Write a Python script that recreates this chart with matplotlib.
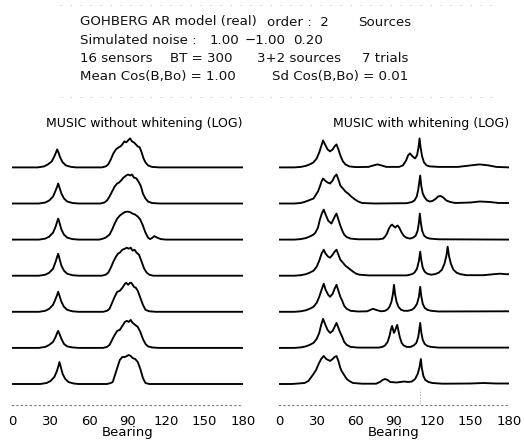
import numpy as np
import matplotlib
matplotlib.use("Agg")
import matplotlib.pyplot as plt
from matplotlib.lines import Line2D

# MUSIC spectra: (bearing in degrees, height above the trace baseline)
left_1 = [(0, 0), (20, 0), (25, 1), (28, 3), (31, 6), (33, 11), (34.3, 15), (35.2, 18), (36.2, 15), (37.5, 10),
          (39.5, 5), (42, 2), (46, 0.5), (50, 0), (70, 0), (73, 1), (75, 3), (77, 8), (79, 14), (81, 18), (83, 20),
          (84.5, 21), (86, 23), (87.5, 26), (89, 25), (90.5, 27), (92, 29), (93.5, 26), (95, 25), (96.5, 23),
          (98, 21), (99.5, 20), (101, 15), (102.5, 9), (104, 5), (106, 2), (109, 0.5), (115, 0), (180, 0)]
left_2 = [(0, 0), (21, 0), (26, 1), (29, 3), (32, 7), (34, 13), (35.2, 17), (36, 20), (37, 16), (38.5, 10),
          (40.5, 5), (43, 2), (47, 0.5), (52, 0), (69, 0), (72, 1), (74, 3), (76, 7), (78, 12), (80, 17), (82, 20),
          (83.5, 21), (85, 23), (87, 26), (89, 28), (90.5, 29), (92, 28), (93.5, 29), (95, 26), (97, 25), (99, 21),
          (100.5, 17), (102, 10), (104, 5), (106, 2), (109, 0.5), (115, 0), (180, 0)]
left_3 = [(0, 0), (21, 0), (26, 1), (29, 3), (32, 7), (34, 13), (35.2, 18), (36, 21), (37, 17), (38.5, 10),
          (40.5, 5), (43, 2), (47, 0.5), (52, 0), (68, 0), (71, 1), (73, 2), (76, 5), (78, 10), (80, 16), (82, 21),
          (84, 24), (86, 26), (88, 27.5), (90, 28), (92, 27.5), (94, 26), (96, 25), (98, 23), (100, 20), (102, 14),
          (104, 7), (106, 2), (107.5, 0.5), (109, 1.5), (111, 3.5), (113, 2), (116, 0.5), (120, 0), (180, 0)]
left_4 = [(0, 0), (21, 0), (26, 1), (29, 3), (32, 7), (34, 14), (35.2, 19), (36, 22), (37, 17), (38.5, 10),
          (40.5, 5), (43, 2), (47, 0.5), (52, 0), (70, 0), (73, 1), (75, 3), (77, 8), (79, 14), (81, 19), (82.5, 22),
          (84, 23), (86, 26), (88, 27), (89.5, 28), (91, 27), (92.5, 28), (94, 25), (95.5, 26), (97, 23), (99, 21),
          (101, 14), (103, 7), (105, 3), (107, 1), (110, 0), (180, 0)]
left_5 = [(0, 0), (21, 0), (26, 1), (29, 3), (32, 7), (34, 13), (35.2, 17), (36, 20), (37, 16), (38.5, 10),
          (40.5, 5), (43, 2), (47, 0.5), (52, 0), (71, 0), (74, 1), (76, 3), (78, 9), (80, 15), (82, 20), (84, 21),
          (86, 24), (88, 28), (89, 29), (90.5, 27), (92, 29), (93, 29), (95, 25), (96.5, 24), (98, 21), (100, 14),
          (102, 7), (104, 2), (107, 0.5), (112, 0), (180, 0)]
left_6 = [(0, 0), (21, 0), (26, 1), (29, 3), (32, 6), (34, 11), (35.2, 15), (36, 17), (37, 14), (38.5, 9),
          (40.5, 4), (43, 1.5), (47, 0.5), (52, 0), (71, 0), (74, 1), (76, 3), (78, 8), (80, 13), (82, 17), (84, 18),
          (86, 22), (88, 26), (89.5, 27), (91, 26), (92.5, 28), (94, 25), (96, 23), (98, 21), (100, 16), (102, 9),
          (104, 4), (106, 1.5), (109, 0.5), (114, 0), (180, 0)]
left_7 = [(0, 0), (22, 0), (27, 1), (30, 3), (33, 7), (35, 13), (36.2, 18), (37, 22), (38, 17), (39.5, 10),
          (41.5, 5), (44, 2), (48, 0.5), (52, 0), (74, 0), (77, 1), (78.5, 2), (80, 8), (82, 16), (84, 24), (86, 27),
          (88, 27), (89.5, 28), (91, 29), (92.5, 28), (94, 26), (96, 25), (98, 22), (100, 15), (102, 6), (104, 1),
          (107, 0), (180, 0)]

right_1 = [(0, 0), (12, 0), (17, 0.5), (21, 1.5), (24, 3), (27, 5), (29.5, 9), (31.5, 15), (33, 21), (34.5, 27),
           (36, 23), (38, 18), (40, 16), (42, 18), (43.5, 21), (45, 23), (46.5, 18), (48, 12), (50, 6), (52, 3),
           (55, 1), (60, 0.3), (70, 0.5), (74, 2), (77, 3), (80, 2), (84, 0.5), (94, 0.5), (97, 2), (99.5, 7),
           (101, 12), (102.5, 14), (104.5, 11), (106.5, 9), (108, 12), (109.2, 20), (110, 29), (110.8, 20),
           (112, 11), (113.5, 5), (115.5, 2), (118, 1), (125, 0.5), (140, 0.5), (150, 2), (157, 3), (164, 2),
           (170, 0.5), (180, 0)]
right_2 = [(0, 0), (12, 0), (17, 0.5), (21, 2), (24, 3.5), (27, 5), (29, 9), (30.5, 12), (32, 17), (33.3, 22),
           (34.5, 25), (36, 23), (38, 21), (40, 20), (42, 23), (43.5, 27), (45, 29), (46.5, 24), (48, 18), (50, 15),
           (52, 12), (54, 10), (56.5, 7), (59.5, 4), (62, 2), (65, 0.5), (75, 0), (100, 0.3), (104, 1.5), (106, 3),
           (107.8, 7), (109, 14), (110.5, 28), (111.3, 18), (112.5, 10), (114, 6), (116, 3), (118, 2), (120, 2.5),
           (122.5, 4.5), (124.5, 7), (126.5, 7.5), (128.5, 6), (131, 3), (134, 1.5), (138, 0.5), (150, 1),
           (157, 2), (165, 1.5), (172, 0.5), (180, 0.5)]
right_3 = [(0, 0), (12, 0), (17, 0.5), (21, 1.5), (24, 3), (27, 5), (28.5, 7), (30.5, 12), (32, 20), (33.5, 26),
           (35, 30), (36.5, 25), (38.5, 19), (41, 16), (42.5, 20), (44, 24), (45, 26), (46.5, 20), (48, 14),
           (49.5, 9), (51, 5), (53, 2.5), (56, 1), (62, 0.3), (78, 0.3), (81.5, 1), (83, 3), (84.5, 6), (86, 11),
           (87.5, 14), (88.5, 15), (90, 13), (91, 12), (92, 13.5), (93, 14), (94.5, 11), (96, 7), (97.5, 4),
           (99.5, 2), (102.5, 1), (105, 2), (107, 4), (108.5, 9), (109.5, 17), (110.2, 26), (111, 17), (112, 9),
           (113.5, 4), (115.5, 2), (118, 1), (125, 0.3), (180, 0)]
right_4 = [(0, 0), (12, 0), (17, 0.5), (21, 1.5), (24, 3), (27, 5), (29.5, 9), (31.5, 15), (33.3, 22), (35, 26),
           (36.5, 22), (38.5, 19), (40, 18), (42, 21), (43.5, 24), (45, 26), (46.5, 21), (48, 16), (50, 13),
           (52, 10), (54, 8), (56, 6), (58, 4), (60.5, 2), (63, 1), (70, 0.3), (100, 0.3), (104, 1.5), (106, 3),
           (108, 7), (109.5, 15), (110.5, 24), (111.3, 16), (112.5, 8), (114, 4), (116, 2), (119, 1), (122, 1.5),
           (125, 3), (127.5, 6), (129.5, 12), (131, 20), (132, 29), (133, 20), (134.5, 12), (136.5, 6), (139, 3),
           (142, 1.5), (147, 0.5), (160, 0.5), (168, 1.5), (173, 2), (178, 1.5), (180, 1.5)]
right_5 = [(0, 0), (12, 0), (17, 0.5), (21, 1.5), (24, 3), (27, 5), (29.5, 9), (31.5, 15), (33.3, 22), (35, 28),
           (36.5, 22), (38.5, 17), (40, 15), (42, 18), (43.5, 23), (45, 27), (46.5, 21), (48, 15), (49.5, 11),
           (51, 6), (53, 3), (56, 1), (62, 0.3), (69, 0.5), (73.5, 3), (77, 1.5), (80, 0.5), (83, 1), (85, 2.5),
           (86.5, 5), (88, 10), (89.2, 18), (90, 27), (90.8, 18), (92, 10), (93.5, 5), (95.5, 2), (98, 1),
           (101, 1), (104, 2), (106, 4), (108, 8), (109.5, 15), (110.5, 25), (111.3, 16), (112.5, 8), (114, 4),
           (116, 2), (119, 1), (125, 0.3), (180, 0.5)]
right_6 = [(0, 0), (12, 0), (17, 0.5), (21, 1.5), (24, 3), (27, 5), (29.5, 9), (31.5, 15), (33, 23), (34.5, 29),
           (36, 24), (38, 18), (40, 15), (42, 17), (43.5, 21), (45, 25), (46.5, 20), (48, 15), (49.5, 11),
           (51, 6), (53, 3), (56, 1), (62, 0.3), (78, 0.3), (81, 1), (83, 2.5), (85, 6), (86.5, 12), (87.5, 18),
           (88.5, 22), (89.3, 18), (90, 15), (91, 18), (92.5, 23), (93.5, 17), (94.5, 11), (96, 5), (97.5, 2.5),
           (100, 1), (103, 1), (105.5, 2.5), (107.5, 5), (109, 11), (110.5, 25), (111.3, 16), (112.5, 8),
           (114, 4), (116, 2), (119, 1), (125, 0.3), (180, 0.3)]
right_7 = [(0, 0), (10, 0), (15, 0.5), (20, 1), (23, 3), (27, 10), (29, 14), (31, 20), (33, 25), (35, 28),
           (37, 25), (40, 23), (42, 25), (43.5, 27), (45, 28), (46.5, 23), (48, 16), (49, 13), (51, 9), (53, 5),
           (55, 3), (58, 1), (65, 0.3), (76, 0.3), (79, 2), (81, 4), (83, 5), (85, 4), (87, 2), (92, 1.5),
           (95, 2), (98, 2.5), (101, 2), (104, 2.5), (106.5, 5), (108.5, 10), (110, 17), (111, 25), (111.8, 16),
           (113, 8), (114.5, 4), (117, 2), (120, 1), (128, 0.3), (150, 0.5), (160, 1), (170, 0.5), (180, 0.5)]

left_traces = [left_1, left_2, left_3, left_4, left_5, left_6, left_7]
right_traces = [right_1, right_2, right_3, right_4, right_5, right_6, right_7]

titles = ["MUSIC without whitening (LOG)", "MUSIC with whitening (LOG)"]
ticks = [0, 30, 60, 90, 120, 150, 180]

header = [
    [("GOHBERG AR model (real)", 80), ("order :  2", 267), ("Sources", 358)],
    [("Simulated noise :", 80), ("1.00", 210), ("\u22121.00", 245), ("0.20", 293)],
    [("16 sensors", 80), ("BT = 300", 170), ("3+2 sources", 257), ("7 trials", 362)],
    [("Mean Cos(B,Bo) = 1.00", 80), ("Sd Cos(B,Bo) = 0.01", 272)],
]

W, H = 524, 442
spacing = 36.1
fig = plt.figure(figsize=(W / 100, H / 100), dpi=100)

# header block
for row, parts in enumerate(header):
    ypix = 22 + 18.3 * row
    for txt, xpix in parts:
        fig.text(xpix / W, 1 - ypix / H, txt, fontsize=9.6, va="center", ha="left", color="#111111")

# faint scan lines above/below header
for ypix in [5, 97]:
    fig.add_artist(Line2D([60 / W, 500 / W], [1 - ypix / H, 1 - ypix / H], color="0.78", lw=0.6,
                          linestyle=(0, (2, 10))))

boxes = [(12, 243), (279, 509)]
for panel, (traces, title, (x0, x1)) in enumerate(zip([left_traces, right_traces], titles, boxes)):
    ax = fig.add_axes([x0 / W, (H - 405) / H, (x1 - x0) / W, 295 / H])
    n = len(traces)
    for i, tr in enumerate(traces):
        b = np.array([p[0] for p in tr])
        h = np.array([p[1] for p in tr])
        ax.plot(b, h + (n - 1 - i) * spacing, color="black", lw=1.35, solid_joinstyle="round")
    ax.set_xlim(0, 180)
    ax.set_ylim(-21, 274)
    for s in ["top", "left", "right"]:
        ax.spines[s].set_visible(False)
    ax.spines["bottom"].set_linestyle((0, (1, 3)))
    ax.spines["bottom"].set_color("0.45")
    ax.spines["bottom"].set_linewidth(0.8)
    ax.set_yticks([])
    ax.set_xticks(ticks)
    ax.tick_params(axis="x", length=0, pad=7, labelsize=9.5)
    ax.set_xlabel("Bearing", fontsize=9.5, labelpad=-1)
    ax.text(1.0, 260, title, transform=ax.get_yaxis_transform(), ha="right", va="center", fontsize=9.0)
    ax.patch.set_alpha(0)
    if panel == 1:
        ax.plot([110, 110], [-20, -5], color="0.6", lw=0.7, linestyle=(0, (1, 2)))

fig.savefig("out.png", dpi=100)
